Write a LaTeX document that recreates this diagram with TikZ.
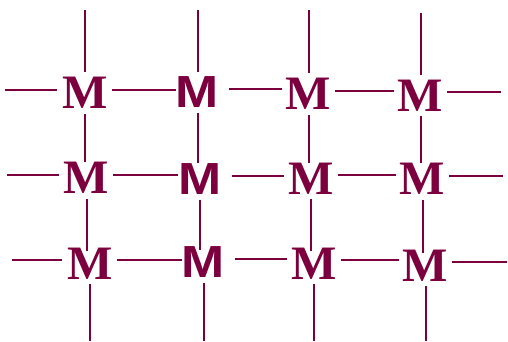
\documentclass[tikz,border=0pt]{standalone}
\usepackage{fontspec}
\newfontfamily\serifM{Liberation Serif}
\newfontfamily\sansM{Liberation Sans}
\definecolor{maroon}{RGB}{125,0,62}
\tikzset{
  bond/.style={draw=maroon, line width=2pt},
  serifatom/.style={inner sep=0pt, text=maroon, font=\serifM\bfseries\fontsize{48}{48}\selectfont},
  sansatom/.style={inner sep=0pt, text=maroon, font=\sansM\bfseries\fontsize{45}{45}\selectfont},
}
\newcommand{\wideM}{\scalebox{1.15}[1]{M}}
\begin{document}
\begin{tikzpicture}[x=1pt, y=-1pt]
\useasboundingbox (0,0) rectangle (508,341);

% metal atoms, row by row
\node[serifatom] (m11) at (85,93)    {M};
\node[sansatom]  (m12) at (197.5,92.5) {\wideM};
\node[serifatom] (m13) at (308.5,94) {M};
\node[serifatom] (m14) at (420.5,95.5) {M};

\node[serifatom] (m21) at (86.5,178) {M};
\node[sansatom]  (m22) at (200,179)  {\wideM};
\node[serifatom] (m23) at (311,178.5) {M};
\node[serifatom] (m24) at (422.5,179) {M};

\node[serifatom] (m31) at (90,263.5) {M};
\node[sansatom]  (m32) at (203.5,262.5) {\wideM};
\node[serifatom] (m33) at (314,263.5) {M};
\node[serifatom] (m34) at (425.5,265.5) {M};

% free ends of the outer bonds
\coordinate (l1) at (5,89.5);   \coordinate (r1) at (501,92);
\coordinate (l2) at (7,174.5);  \coordinate (r2) at (503,175.5);
\coordinate (l3) at (12,260);   \coordinate (r3) at (507,262);
\coordinate (t1) at (85,10);    \coordinate (t2) at (197.5,10);
\coordinate (t3) at (308.5,10); \coordinate (t4) at (420.5,13);
\coordinate (b1) at (90,341);   \coordinate (b2) at (203.5,341);
\coordinate (b3) at (314,341);  \coordinate (b4) at (426.5,341);

% horizontal bonds, level with the atom on their left
\foreach \r in {1,2,3}{
  \draw[bond] (l\r) -- ([xshift=-5pt]l\r -| m\r1.west);
  \draw[bond] ([shift={(4,-3.5)}]m\r1.east) coordinate (h) -- (h -| m\r2.west);
  \draw[bond] ([shift={(10,-3.5)}]m\r2.east) coordinate (h) -- ([xshift=-4pt]h -| m\r3.west);
  \draw[bond] ([shift={(4,-3.5)}]m\r3.east) coordinate (h) -- ([xshift=-4pt]h -| m\r4.west);
  \draw[bond] ([shift={(4,-3.5)}]m\r4.east) coordinate (h) -- (h -| r\r);
}

% vertical bonds, straight down from the atom above
\foreach \c in {1,2,3,4}{
  \draw[bond] (t\c) -- ([yshift=5pt]t\c |- m1\c.north);
  \draw[bond] ([yshift=-5pt]m1\c.south) coordinate (v) -- (v |- m2\c.north);
  \draw[bond] ([yshift=-5pt]m2\c.south) coordinate (v) -- ([yshift=-3pt]v |- m3\c.north);
  \draw[bond] ([yshift=-5pt]m3\c.south) coordinate (v) -- (v |- b\c);
}
\end{tikzpicture}
\end{document}
